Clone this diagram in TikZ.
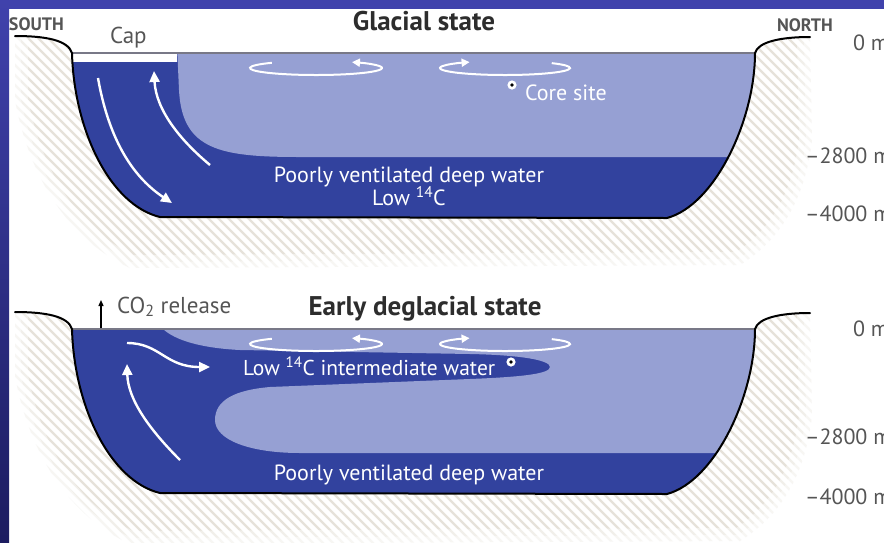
\documentclass[tikz,border=0pt]{standalone}
\usepackage{fontspec}
\setmainfont{PT Sans}
\usetikzlibrary{arrows.meta}

\definecolor{deepblue}{RGB}{50,66,158}
\definecolor{paleblue}{RGB}{150,160,211}
\definecolor{framehi}{RGB}{64,66,172}
\definecolor{framelo}{RGB}{28,28,96}
\definecolor{hatchgray}{RGB}{230,226,218}
\definecolor{labelgray}{RGB}{85,85,85}
\definecolor{titlegray}{RGB}{45,45,45}
\definecolor{surfacegray}{RGB}{120,120,135}

% basin interior (y offset as argument, pixel-like units, y pointing down)
\newcommand\basinshape[1]{(72,#1+53) .. controls (74,#1+130) and (110,#1+205) .. (160,#1+217) -- (667,#1+218) .. controls (715,#1+205) and (755,#1+120) .. (755,#1+53) -- cycle}
% coast line and sea floor
\newcommand\coastline[1]{(15,#1+36) .. controls (45,#1+36) and (68,#1+40) .. (72,#1+53) .. controls (74,#1+130) and (110,#1+205) .. (160,#1+217) -- (667,#1+218) .. controls (715,#1+205) and (755,#1+120) .. (755,#1+53) .. controls (758,#1+42) and (780,#1+37) .. (810,#1+37)}
% hatched land around a basin
\newcommand\landzone[1]{(15,#1+36) .. controls (45,#1+36) and (68,#1+40) .. (72,#1+53) -- (755,#1+53) .. controls (758,#1+42) and (780,#1+37) .. (810,#1+37) -- (812,#1+140) .. controls (805,#1+200) and (780,#1+240) .. (740,#1+265) -- (130,#1+268) .. controls (70,#1+240) and (30,#1+180) .. (15,#1+100) -- cycle}
\newcommand\landrim[1]{(810,#1+37) -- (812,#1+140) .. controls (805,#1+200) and (780,#1+240) .. (740,#1+265) -- (130,#1+268) .. controls (70,#1+240) and (30,#1+180) .. (15,#1+100) -- (15,#1+36)}

\begin{document}
\begin{tikzpicture}[x=1pt,y=-1pt,
  txt/.style={inner sep=0pt, outer sep=0pt},
  side/.style={txt, text=labelgray, font=\fontsize{18}{20}\selectfont\bfseries},
  depth/.style={txt, text=labelgray, font=\fontsize{22}{26}\selectfont},
  title/.style={txt, text=titlegray, font=\fontsize{27}{30}\selectfont\bfseries},
  note/.style={txt, text=labelgray, font=\fontsize{23}{26}\selectfont},
  inwater/.style={txt, text=white, font=\fontsize{22}{26}\selectfont},
  hatchline/.style={hatchgray, line width=2.2pt},
  rimfade/.style={white, opacity=0.45},
  coast/.style={black, line width=2pt, line join=round, line cap=round},
  surface/.style={surfacegray, line width=1.4pt},
  flow/.style={white, line width=2.4pt, -{Triangle[length=11pt,width=10pt]}},
  gyre/.style={white, line width=2pt, -{Triangle[length=8pt,width=8pt]}},
  vent/.style={black, line width=1.3pt, -{Triangle[length=6pt,width=5pt]}},
]
\useasboundingbox (0,0) rectangle (884,542);
\clip (0,0) rectangle (884,542);
\fill[white] (0,0) rectangle (884,542);

% ---------- hatched land ----------
\foreach \dy in {0,276} {
  \begin{scope}
    \clip \landzone{\dy};
    \foreach \k in {-560,-550,...,890}
      \draw[hatchline] (\k,0) -- ++(560,560);
  \end{scope}
  \draw[rimfade, line width=26pt] \landrim{\dy};
  \draw[rimfade, line width=12pt] \landrim{\dy};
}

% ---------- glacial state basin ----------
\fill[deepblue] \basinshape{0};
\begin{scope}
  \clip \basinshape{0};
  \fill[paleblue] (177,45) -- (179,90) .. controls (182,150) and (220,157) .. (300,157) -- (800,157) -- (800,45) -- cycle;
  \fill[white] (60,53) rectangle (177,62);
\end{scope}
\draw[surface] (72,53) -- (755,53);
\draw[coast] \coastline{0};

% overturning cell under the cap
\coordinate (dn0) at (98,78);
\coordinate (dn1) at (172,203);
\coordinate (up0) at (210,165);
\coordinate (up1) at (154,71);
\draw[flow] (dn0) .. controls (108,135) and (130,175) .. (dn1);
\draw[flow] (up0) .. controls (180,140) and (156,110) .. (up1);

% surface gyres
\coordinate (gA) at (316,68);
\coordinate (gB) at (505,68);
\draw[gyre] ([shift={(228:66 and 7)}]gA) arc[start angle=228, end angle=-57, x radius=66, y radius=7];
\draw[gyre] ([shift={(-44:65 and 7)}]gB) arc[start angle=-44, end angle=237, x radius=65, y radius=7];

% core site
\fill[white] (512,85) circle[radius=4.6];
\fill[black] (512,85) circle[radius=1.8];
\node[inwater, anchor=base west] (coreA) at (525,100) {Core site};

\node[inwater, anchor=base] (deepA) at (409,182) {Poorly ventilated deep water};
\node[inwater, anchor=base] (lowA) at (409,205) {Low \textsuperscript{14}C};

\node[side, anchor=base west] (southA) at (9,30) {SOUTH};
\node[side, anchor=base west] (northA) at (777,31) {NORTH};
\node[note, anchor=base west] (cap) at (110,43) {Cap};
\node[title, anchor=base] (glacial) at (424,30) {Glacial state};

\node[depth, anchor=base west] (zA) at (853,50) {0 m};
\node[depth, anchor=base west] (mA) at (805,163) {\textendash2800 m};
\node[depth, anchor=base west] (bA) at (805,221) {\textendash4000 m};

% ---------- early deglacial basin ----------
\fill[deepblue] \basinshape{276};
\begin{scope}
  \clip \basinshape{276};
  \fill[paleblue] (163,320) -- (163,329) -- (800,329) -- (800,453) -- (300,453)
    .. controls (250,453) and (215,440) .. (215,420)
    .. controls (215,400) and (235,390) .. (270,387)
    -- (470,379) .. controls (520,377) and (550,374) .. (550,367)
    .. controls (550,360) and (520,355) .. (470,354)
    -- (240,350) .. controls (200,348) and (175,340) .. (163,329) -- cycle;
\end{scope}
\draw[surface] (72,329) -- (755,329);
\draw[coast] \coastline{276};

% ventilation pathways
\coordinate (rise0) at (180,460);
\coordinate (rise1) at (127,364);
\coordinate (wave0) at (127,343);
\coordinate (wave1) at (210,367);
\draw[flow] (rise0) .. controls (150,430) and (128,400) .. (rise1);
\draw[flow] (wave0) .. controls (160,343) and (165,367) .. (wave1);

% surface gyres
\coordinate (gC) at (316,344);
\coordinate (gD) at (505,344);
\draw[gyre] ([shift={(228:66 and 7)}]gC) arc[start angle=228, end angle=-57, x radius=66, y radius=7];
\draw[gyre] ([shift={(-44:65 and 7)}]gD) arc[start angle=-44, end angle=237, x radius=65, y radius=7];

% core site
\fill[white] (511,362) circle[radius=4.6];
\fill[black] (511,362) circle[radius=1.8];

\node[inwater, anchor=base west, font=\fontsize{21.5}{26}\selectfont] (interB) at (243,375) {Low \textsuperscript{14}C intermediate water};
\node[inwater, anchor=base] (deepB) at (409,480) {Poorly ventilated deep water};

% CO2 outgassing
\coordinate (co0) at (101,328);
\coordinate (co1) at (101,300);
\draw[vent] (co0) -- (co1);
\node[note, anchor=base west] (co2) at (117,313) {CO\textsubscript{2} release};
\node[title, anchor=base] (deglacial) at (425,315) {Early deglacial state};

\node[depth, anchor=base west] (zB) at (853,336) {0 m};
\node[depth, anchor=base west] (mB) at (805,444) {\textendash2800 m};
\node[depth, anchor=base west] (bB) at (805,504) {\textendash4000 m};

% ---------- frame ----------
\fill[framehi] (0,0) rectangle (884,9);
\shade[top color=framehi, bottom color=framelo] (0,0) rectangle (9,542);
\end{tikzpicture}
\end{document}
